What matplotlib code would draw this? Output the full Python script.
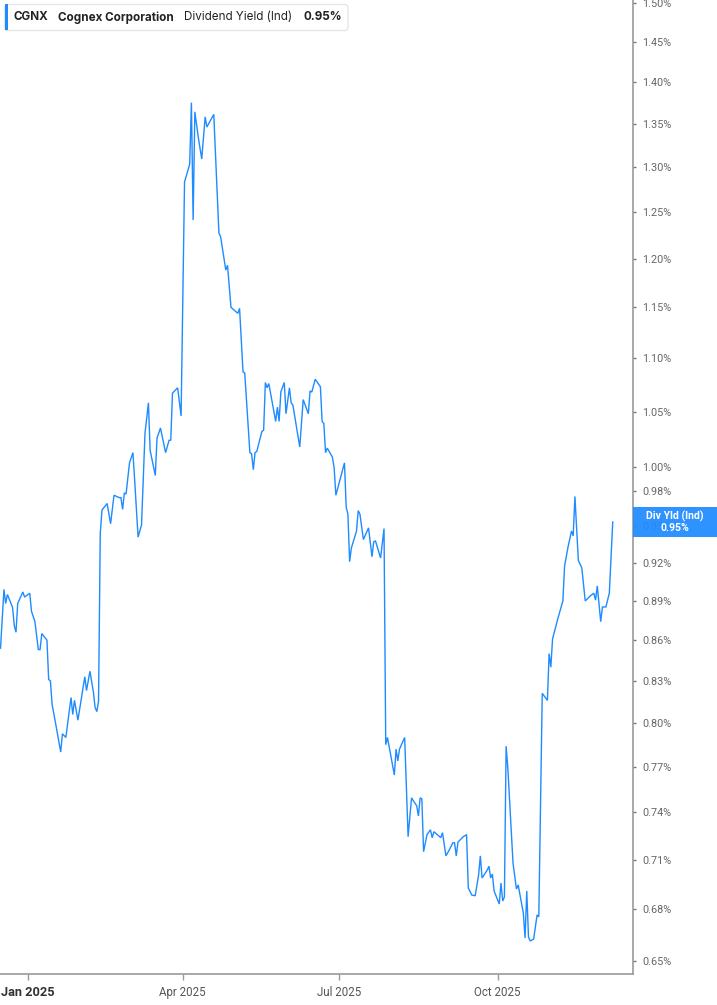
import matplotlib
matplotlib.use("Agg")
import matplotlib.pyplot as plt
import matplotlib.dates as mdates
from matplotlib.patches import FancyBboxPatch, Rectangle
from matplotlib.ticker import FixedLocator, NullLocator
import numpy as np
import pandas as pd

# ---------------- data ----------------
dates = [
    "2024-12-16", "2024-12-18", "2024-12-19", "2024-12-20", "2024-12-23", "2024-12-24", "2024-12-25", "2024-12-26",
    "2024-12-29", "2024-12-30", "2025-01-02", "2025-01-03", "2025-01-05", "2025-01-07", "2025-01-08", "2025-01-09",
    "2025-01-12", "2025-01-13", "2025-01-14", "2025-01-15", "2025-01-17", "2025-01-20", "2025-01-21", "2025-01-23",
    "2025-01-26", "2025-01-27", "2025-01-28", "2025-01-30", "2025-02-03", "2025-02-04", "2025-02-06", "2025-02-08",
    "2025-02-09", "2025-02-10", "2025-02-11", "2025-02-12", "2025-02-13", "2025-02-16", "2025-02-18", "2025-02-20",
    "2025-02-23", "2025-02-24", "2025-02-25", "2025-02-26", "2025-02-27", "2025-03-01", "2025-03-03", "2025-03-04",
    "2025-03-06", "2025-03-08", "2025-03-10", "2025-03-12", "2025-03-13", "2025-03-16", "2025-03-17", "2025-03-19",
    "2025-03-22", "2025-03-24", "2025-03-25", "2025-03-26", "2025-03-29", "2025-03-31", "2025-04-02", "2025-04-05",
    "2025-04-06", "2025-04-07", "2025-04-08", "2025-04-10", "2025-04-12", "2025-04-14", "2025-04-15", "2025-04-19",
    "2025-04-22", "2025-04-23", "2025-04-26", "2025-04-27", "2025-04-29", "2025-05-03", "2025-05-04", "2025-05-06",
    "2025-05-07", "2025-05-10", "2025-05-11", "2025-05-12", "2025-05-13", "2025-05-14", "2025-05-17", "2025-05-18",
    "2025-05-19", "2025-05-20", "2025-05-21", "2025-05-25", "2025-05-26", "2025-05-27", "2025-05-28", "2025-05-30",
    "2025-05-31", "2025-06-02", "2025-06-03", "2025-06-04", "2025-06-08", "2025-06-09", "2025-06-10", "2025-06-13",
    "2025-06-14", "2025-06-15", "2025-06-17", "2025-06-20", "2025-06-21", "2025-06-22", "2025-06-23", "2025-06-24",
    "2025-06-27", "2025-06-28", "2025-06-29", "2025-07-04", "2025-07-05", "2025-07-06", "2025-07-07", "2025-07-08",
    "2025-07-11", "2025-07-12", "2025-07-13", "2025-07-15", "2025-07-18", "2025-07-20", "2025-07-21", "2025-07-22",
    "2025-07-25", "2025-07-27", "2025-07-28", "2025-07-29", "2025-08-02", "2025-08-03", "2025-08-04", "2025-08-05",
    "2025-08-08", "2025-08-10", "2025-08-12", "2025-08-15", "2025-08-16", "2025-08-17", "2025-08-18", "2025-08-19",
    "2025-08-21", "2025-08-23", "2025-08-24", "2025-08-25", "2025-08-29", "2025-08-30", "2025-09-01", "2025-09-03",
    "2025-09-05", "2025-09-06", "2025-09-07", "2025-09-08", "2025-09-11", "2025-09-13", "2025-09-14", "2025-09-16",
    "2025-09-18", "2025-09-20", "2025-09-21", "2025-09-22", "2025-09-25", "2025-09-26", "2025-09-27", "2025-09-28",
    "2025-09-29", "2025-10-02", "2025-10-03", "2025-10-04", "2025-10-05", "2025-10-06", "2025-10-07", "2025-10-10",
    "2025-10-12", "2025-10-13", "2025-10-16", "2025-10-17", "2025-10-18", "2025-10-19", "2025-10-20", "2025-10-22",
    "2025-10-24", "2025-10-25", "2025-10-27", "2025-10-30", "2025-10-31", "2025-11-01", "2025-11-02", "2025-11-05",
    "2025-11-08", "2025-11-09", "2025-11-11", "2025-11-13", "2025-11-14", "2025-11-15", "2025-11-17", "2025-11-19",
    "2025-11-21", "2025-11-24", "2025-11-26", "2025-11-27", "2025-11-28", "2025-11-30", "2025-12-01", "2025-12-03",
    "2025-12-05", "2025-12-07",
]

div_yield = [
    0.854, 0.899, 0.888, 0.895, 0.885, 0.871, 0.866, 0.888,
    0.897, 0.893, 0.896, 0.882, 0.874, 0.853, 0.853, 0.865,
    0.860, 0.831, 0.830, 0.813, 0.800, 0.780, 0.7925, 0.790,
    0.818, 0.806, 0.816, 0.802, 0.833, 0.823, 0.837, 0.822,
    0.811, 0.808, 0.8155, 0.944, 0.9635, 0.969, 0.952, 0.976,
    0.974, 0.974, 0.964, 0.978, 0.977, 1.004, 1.013, 0.989,
    0.941, 0.951, 1.030, 1.058, 1.015, 0.993, 1.026, 1.035,
    1.013, 1.024, 1.024, 1.067, 1.072, 1.046, 1.283, 1.303,
    1.375, 1.241, 1.364, 1.334, 1.309, 1.358, 1.346, 1.361,
    1.227, 1.223, 1.188, 1.193, 1.150, 1.144, 1.149, 1.087,
    1.086, 1.013, 1.012, 0.998, 1.013, 1.014, 1.032, 1.033,
    1.077, 1.072, 1.076, 1.041, 1.054, 1.041, 1.068, 1.077,
    1.048, 1.072, 1.058, 1.056, 1.018, 1.039, 1.061, 1.048,
    1.069, 1.068, 1.080, 1.073, 1.041, 1.039, 1.013, 1.017,
    1.009, 0.9995, 0.976, 1.004, 0.966, 0.960, 0.921, 0.932,
    0.946, 0.963, 0.960, 0.939, 0.9486, 0.925, 0.937, 0.938,
    0.924, 0.948, 0.785, 0.790, 0.7645, 0.782, 0.774, 0.782,
    0.790, 0.7244, 0.7494, 0.7442, 0.7377, 0.7494, 0.7487, 0.715,
    0.7257, 0.7288, 0.7238, 0.7276, 0.7238, 0.727, 0.7124, 0.7162,
    0.7206, 0.7206, 0.7124, 0.721, 0.7244, 0.7257, 0.6927, 0.6885,
    0.688, 0.7006, 0.7124, 0.6988, 0.7036, 0.706, 0.6988, 0.7012,
    0.6909, 0.6831, 0.6957, 0.6849, 0.6873, 0.784, 0.769, 0.708,
    0.6921, 0.6945, 0.6778, 0.6631, 0.6909, 0.6637, 0.6614, 0.6625,
    0.6766, 0.6755, 0.821, 0.816, 0.850, 0.840, 0.861, 0.876,
    0.890, 0.9176, 0.9329, 0.946, 0.942, 0.975, 0.922, 0.916,
    0.890, 0.894, 0.896, 0.8906, 0.9017, 0.874, 0.8853, 0.8853,
    0.896, 0.9535,
]

y_ticks = [1.50, 1.45, 1.40, 1.35, 1.30, 1.25, 1.20, 1.15, 1.10, 1.05, 1.00,
           0.98, 0.95, 0.92, 0.89, 0.86, 0.83, 0.80, 0.77, 0.74, 0.71, 0.68, 0.65]
x_tick_dates = ["2025-01-01", "2025-04-01", "2025-07-01", "2025-10-01"]
x_tick_labels = ["Jan 2025", "Apr 2025", "Jul 2025", "Oct 2025"]

ticker_sym = "CGNX"
company = "Cognex Corporation"
metric = "Dividend Yield (Ind)"
last_value = "0.95%"
badge_label = "Div Yld (Ind)"

# ---------------- figure ----------------
W, H = 717, 1005
DPI = 100
fig = plt.figure(figsize=(W / DPI, H / DPI), dpi=DPI, facecolor="white")

def fx(px):
    return px / W

def fy(py):
    return 1 - py / H

ax_right_px = 632.7
ax_bottom_px = 974
ax = fig.add_axes([0, fy(ax_bottom_px), fx(ax_right_px), 1 - fy(ax_bottom_px)])
ax.set_facecolor("white")

x = pd.to_datetime(dates)
line_color = "#1E8BFF"
ax.plot(x, div_yield, color=line_color, lw=1.0, solid_joinstyle="miter")

ax.set_yscale("log")
ax.set_ylim(0.6426, 1.5039)
ax.yaxis.set_major_locator(FixedLocator(y_ticks))
ax.yaxis.set_minor_locator(NullLocator())
ax.set_yticklabels([f"{v:.2f}%" for v in y_ticks])
ax.yaxis.tick_right()

x0 = mdates.date2num(pd.Timestamp("2025-01-01"))
ax.set_xlim(x0 - 16.3, x0 + 351.6)
ax.set_xticks(pd.to_datetime(x_tick_dates))
ax.set_xticklabels(x_tick_labels)
ax.xaxis.set_minor_locator(NullLocator())

for s in ["left", "top"]:
    ax.spines[s].set_visible(False)
for s in ["right", "bottom"]:
    ax.spines[s].set_color("#9a9a9a")
    ax.spines[s].set_linewidth(1.2)

tick_font = "Roboto"
ax.tick_params(axis="y", which="major", direction="out", length=2.5, width=1,
               color="#777777", pad=4.5, labelsize=7.8, labelcolor="#666666")
ax.tick_params(axis="x", which="major", direction="out", length=4, width=1,
               color="#9a9a9a", pad=4.5, labelsize=8.3, labelcolor="#555555")
for lbl in ax.get_yticklabels():
    lbl.set_fontfamily(tick_font)
for i, lbl in enumerate(ax.get_xticklabels()):
    lbl.set_fontfamily(tick_font)
    if i == 0:
        lbl.set_fontweight("bold")
        lbl.set_color("#333333")
        lbl.set_fontsize(9.2)

# ---------------- header box ----------------
box = FancyBboxPatch((fx(4.5), fy(30.5)), fx(348) - fx(4.5), fy(4.5) - fy(30.5),
                     boxstyle="round,pad=0,rounding_size=0.004",
                     transform=fig.transFigure, facecolor="white",
                     edgecolor="#e4e4e4", lw=0.9, zorder=5)
fig.patches.append(box)
bar = Rectangle((fx(4.5), fy(30.5)), fx(7.5) - fx(4.5), fy(4.5) - fy(30.5),
                transform=fig.transFigure, facecolor="#1E8BFF", edgecolor="none", zorder=6)
fig.patches.append(bar)

hdr_y = fy(17.5)
hdr_font = "Inter"
fig.text(fx(13.5), hdr_y, ticker_sym, fontsize=8.4, fontweight="bold", color="#222222",
         family=hdr_font, va="center", ha="left", zorder=7)
fig.text(fx(58), hdr_y, company, fontsize=8.4, fontweight="bold", color="#222222",
         family=hdr_font, va="center", ha="left", zorder=7)
fig.text(fx(184.5), hdr_y, metric, fontsize=8.4, color="#222222",
         family=hdr_font, va="center", ha="left", zorder=7)
fig.text(fx(303), hdr_y, last_value, fontsize=8.4, fontweight="bold", color="#222222",
         family=hdr_font, va="center", ha="left", zorder=7)

# ---------------- value badge ----------------
badge = Rectangle((fx(632.7), fy(537)), fx(717) - fx(632.7), fy(507.5) - fy(537),
                  transform=fig.transFigure, facecolor="#1E8BFF", edgecolor="none",
                  alpha=0.93, zorder=8)
fig.patches.append(badge)
bx = fx(675)
fig.text(bx, fy(516), badge_label, fontsize=7.6, fontweight="bold", color="white",
         family=tick_font, va="center", ha="center", zorder=9)
fig.text(bx, fy(528), last_value, fontsize=7.6, fontweight="bold", color="white",
         family=tick_font, va="center", ha="center", zorder=9)

fig.savefig("out.png", dpi=DPI, facecolor="white")
